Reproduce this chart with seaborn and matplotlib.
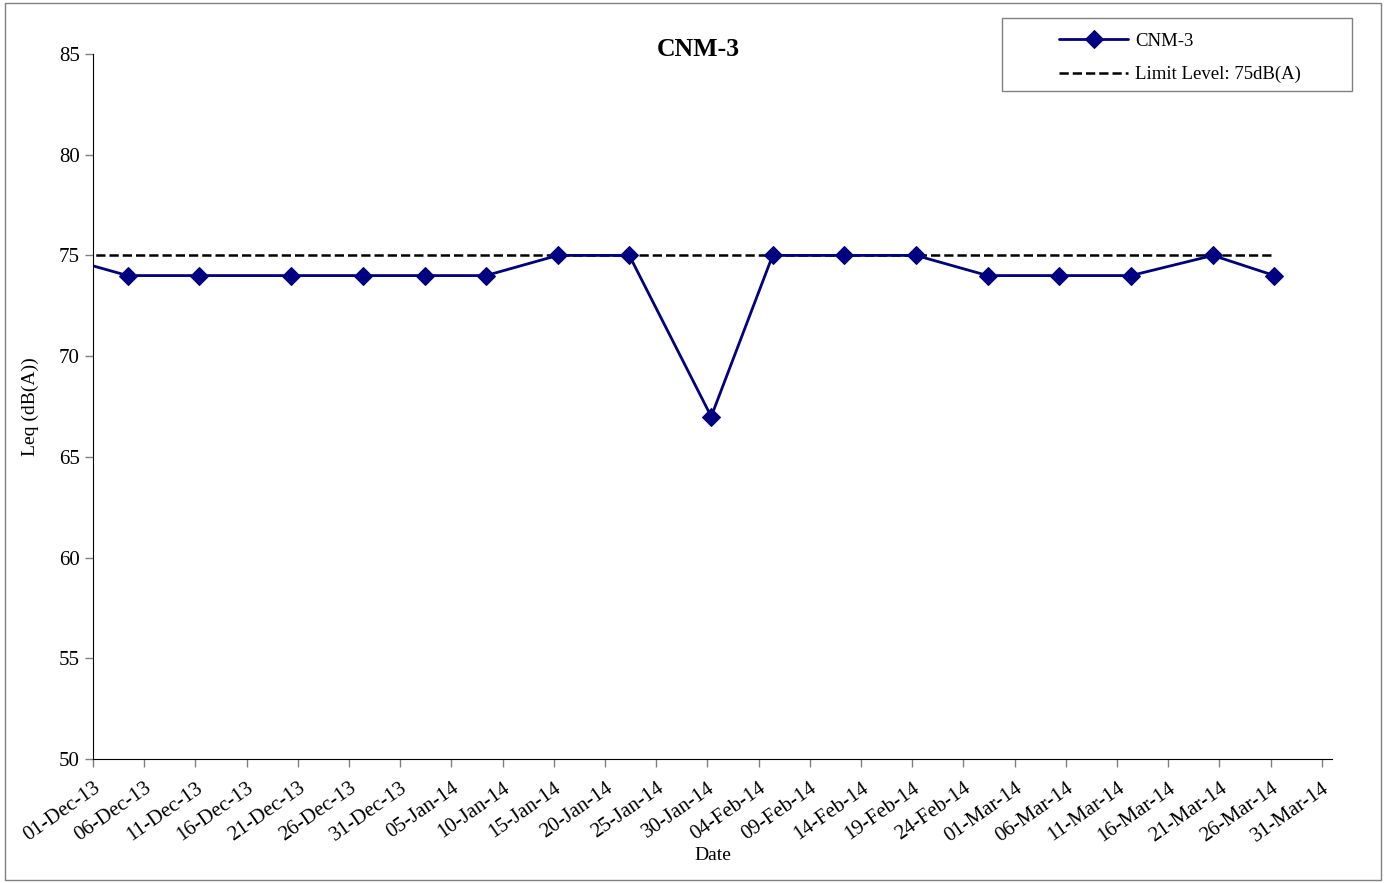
import pandas as pd
import matplotlib
matplotlib.use('Agg')
import matplotlib.pyplot as plt
import matplotlib.dates as mdates
import seaborn as sns

# sampling dates (readings taken mid-morning) and Leq values
dates = ['2013-11-27 09:00', '2013-12-04 09:00', '2013-12-11 09:00', '2013-12-20 09:00',
         '2013-12-27 09:00', '2014-01-02 09:00', '2014-01-08 09:00', '2014-01-15 09:00',
         '2014-01-22 09:00', '2014-01-30 09:00', '2014-02-05 09:00', '2014-02-12 09:00',
         '2014-02-19 09:00', '2014-02-26 09:00', '2014-03-05 09:00', '2014-03-12 09:00',
         '2014-03-20 09:00', '2014-03-26 09:00']
leq = [75, 74, 74, 74, 74, 74, 74, 75, 75, 67, 75, 75, 75, 74, 74, 74, 75, 74]
limit = [75] * len(dates)

df = pd.DataFrame({'date': pd.to_datetime(dates), 'leq': leq, 'limit': limit})

sns.set_style('white')
plt.rcParams['font.family'] = ['Liberation Serif', 'DejaVu Serif']
plt.rcParams['text.color'] = 'black'
plt.rcParams['axes.labelcolor'] = 'black'
plt.rcParams['xtick.color'] = 'black'
plt.rcParams['ytick.color'] = 'black'

fig = plt.figure(figsize=(13.87, 8.83), dpi=100)
ax = fig.add_axes([93/1387, 1-759/883, (1332-93)/1387, (759-54)/883])

sns.lineplot(data=df, x='date', y='limit', ax=ax, color='black', linestyle='--',
             linewidth=1.8, label='Limit Level: 75dB(A)')
sns.lineplot(data=df, x='date', y='leq', ax=ax, color='#000080', linewidth=2,
             marker='D', markersize=9.5, markeredgecolor='#000080', label='CNM-3')

ax.set_xlim(pd.Timestamp('2013-12-01'), pd.Timestamp('2014-04-01'))
ax.set_ylim(50, 85)
ax.set_yticks([50, 55, 60, 65, 70, 75, 80, 85])
ticks = pd.date_range('2013-12-01', '2014-03-31', freq='5D')
ax.set_xticks(ticks)
ax.xaxis.set_major_formatter(mdates.DateFormatter('%d-%b-%y'))
plt.setp(ax.get_xticklabels(), rotation=35, ha='right', va='top', rotation_mode='anchor')

ax.tick_params(axis='both', which='major', direction='out', length=6, width=1,
               color='#808080', labelcolor='black', labelsize=15, left=True, bottom=True)
ax.tick_params(axis='x', pad=8)
ax.spines['top'].set_visible(False)
ax.spines['right'].set_visible(False)
ax.spines['left'].set_color('black')
ax.spines['bottom'].set_color('black')
ax.grid(False)

ax.set_xlabel('Date', fontsize=14, labelpad=1)
ax.set_ylabel('Leq (dB(A))', fontsize=14, labelpad=14)
fig.text(698/1387, 1-50/883, 'CNM-3', ha='center', va='center', fontsize=18.5, fontweight='bold')

handles, labels = ax.get_legend_handles_labels()
ax.get_legend().remove()
leg = fig.legend(handles[::-1], labels[::-1], loc='upper left',
                 bbox_to_anchor=(1042/1387, 1-16/883), fontsize=13.5, frameon=False,
                 handlelength=3.7, handletextpad=0.35, labelspacing=0.85)

# legend box and outer chart border
fig.patches.append(plt.Rectangle((1002/1387, 1-91/883), 350/1387, 73/883, transform=fig.transFigure,
                                 fill=False, edgecolor='#808080', linewidth=1))
fig.patches.append(plt.Rectangle((5/1387, 3/883), 1376/1387, 877/883, transform=fig.transFigure,
                                 fill=False, edgecolor='#808080', linewidth=1))

fig.savefig('out.png', dpi=100)
